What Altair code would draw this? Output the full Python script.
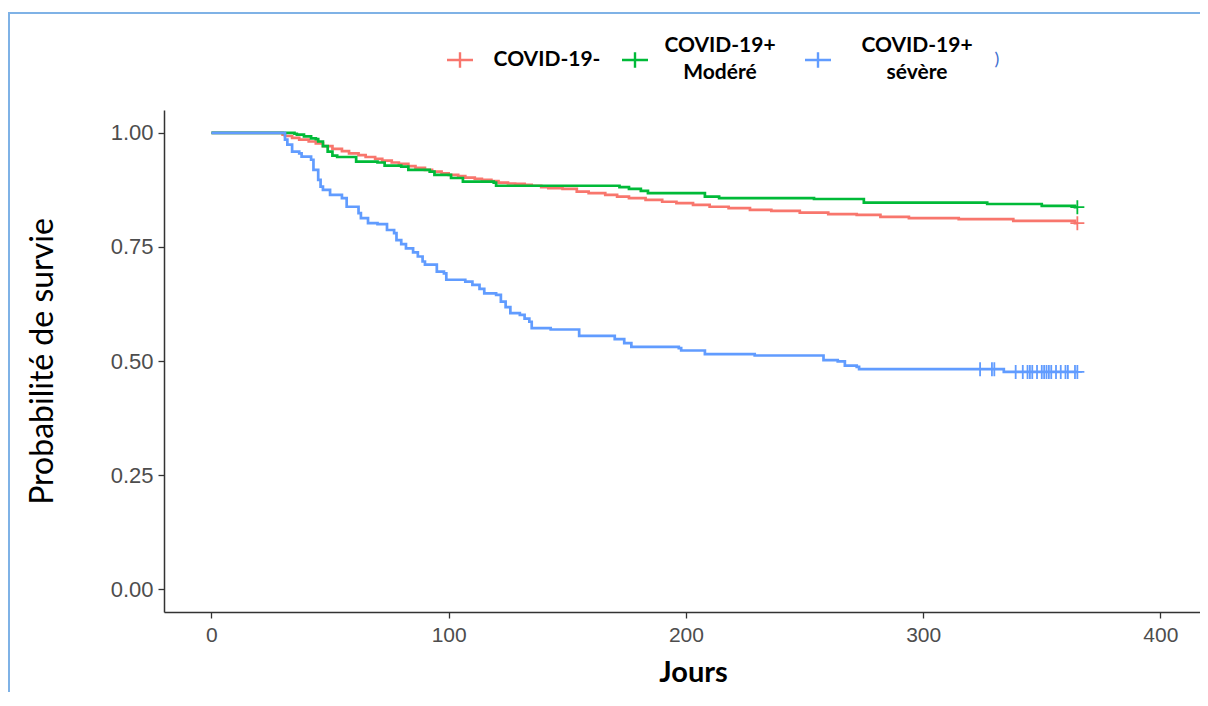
import altair as alt
import pandas as pd

# ---------------- data ----------------
groups = ["COVID-19-", "COVID-19+ Modéré", "COVID-19+ sévère"]
colors = ["#F8766D", "#00BA38", "#619CFF"]

red_t = [0, 30, 31, 34, 37, 41, 44, 47, 51, 55, 58, 62, 65, 69, 72, 76, 79, 83, 86, 90,
         93, 97, 100, 104, 107, 111, 114, 118, 121, 125, 128, 132, 135, 139, 142, 148, 154,
         159, 166, 171, 176, 183, 190, 196, 203, 210, 218, 227, 236, 248, 260, 272, 282,
         294, 315, 338, 364, 365]
red_s = [1.0, 0.996, 0.993, 0.989, 0.985, 0.981, 0.977, 0.971, 0.965, 0.960, 0.955, 0.951,
         0.947, 0.943, 0.939, 0.935, 0.932, 0.927, 0.923, 0.919, 0.915, 0.911, 0.908, 0.905,
         0.902, 0.899, 0.897, 0.894, 0.891, 0.889, 0.888, 0.886, 0.884, 0.881, 0.879, 0.877,
         0.871, 0.868, 0.864, 0.860, 0.857, 0.853, 0.849, 0.846, 0.842, 0.838, 0.835, 0.831,
         0.829, 0.825, 0.822, 0.820, 0.816, 0.813, 0.811, 0.807, 0.802, 0.802]

green_t = [0, 30, 35, 36, 39, 42, 44, 45, 47, 49, 51, 53, 61, 70, 73, 80, 83, 92, 94, 101,
           106, 119, 120, 172, 176, 181, 184, 208, 214, 254, 275, 327, 350, 364, 365]
green_s = [1.0, 1.0, 0.998, 0.996, 0.992, 0.988, 0.986, 0.981, 0.971, 0.959, 0.950, 0.947,
           0.937, 0.935, 0.928, 0.926, 0.919, 0.915, 0.908, 0.901, 0.893, 0.891, 0.884,
           0.881, 0.877, 0.873, 0.868, 0.860, 0.857, 0.855, 0.847, 0.844, 0.840, 0.837, 0.837]

blue_t = [0, 30, 31, 32, 34, 37, 38, 42, 43, 45, 46, 47, 50, 55, 57, 62, 63, 66, 70, 74,
          77, 78, 80, 82, 85, 87, 89, 90, 95, 98, 99, 107, 110, 113, 115, 120, 122, 124,
          126, 130, 132, 134, 135, 143, 155, 170, 174, 177, 197, 198, 208, 229, 258, 264,
          267, 272, 273, 334, 365]
blue_s = [1.0, 1.0, 0.985, 0.974, 0.959, 0.955, 0.948, 0.941, 0.919, 0.897, 0.882, 0.875,
          0.864, 0.857, 0.838, 0.824, 0.813, 0.802, 0.800, 0.787, 0.780, 0.765, 0.756, 0.747,
          0.738, 0.729, 0.718, 0.711, 0.696, 0.692, 0.678, 0.674, 0.667, 0.658, 0.648, 0.645,
          0.630, 0.618, 0.605, 0.601, 0.593, 0.586, 0.572, 0.569, 0.555, 0.548, 0.539, 0.531,
          0.528, 0.523, 0.515, 0.512, 0.502, 0.499, 0.490, 0.487, 0.482, 0.476, 0.476]

red_cens = [365]
green_cens = [365]
blue_cens = [324, 329, 330, 339, 342, 344, 345, 346, 348, 350, 351, 352, 353, 354, 356,
             358, 360, 361, 364, 365]

x_ticks = [0, 100, 200, 300, 400]
y_ticks = [0.0, 0.25, 0.5, 0.75, 1.0]

legend_lines = [["COVID-19-"], ["COVID-19+", "Modéré"], ["COVID-19+", "sévère"]]

# ---------------- build tables ----------------
def step_value(ts, ss, t):
    v = ss[0]
    for tt, s in zip(ts, ss):
        if tt <= t:
            v = s
    return v

series = [(red_t, red_s, red_cens), (green_t, green_s, green_cens), (blue_t, blue_s, blue_cens)]
curves = []
cens = []
for g, (ts, ss, cs) in zip(groups, series):
    curves.append(pd.DataFrame({"t": ts, "s": ss, "group": g}))
    cens.append(pd.DataFrame({"t": cs, "s": [step_value(ts, ss, c) for c in cs], "group": g}))

LABEL_FONT = "Liberation Sans"
TEXT_FONT = "Lato"

X = alt.X("t:Q", scale=alt.Scale(domain=[-20, 416.7], nice=False, zero=False),
          axis=alt.Axis(values=x_ticks, title="Jours", grid=False, labelFont=LABEL_FONT,
                        labelFontSize=21, labelColor="#4D4D4D", labelPadding=6,
                        tickSize=6, tickColor="#333333", tickWidth=1.3,
                        domainColor="#333333", domainWidth=1.5,
                        titleFont=TEXT_FONT, titleFontWeight="bold", titleFontSize=29,
                        titleColor="#000000", titleX=529, titleY=60,
                        titleBaseline="middle", titleAlign="center"))
Y = alt.Y("s:Q", scale=alt.Scale(domain=[-0.05, 1.05], nice=False, zero=False),
          axis=alt.Axis(values=y_ticks, format=".2f", title="Probabilité de survie",
                        grid=False, labelFont=LABEL_FONT, labelFontSize=22,
                        labelColor="#4D4D4D", labelPadding=5,
                        tickSize=6, tickColor="#333333", tickWidth=1.3,
                        domainColor="#333333", domainWidth=1.5,
                        titleFont=TEXT_FONT, titleFontWeight="normal", titleFontSize=32,
                        titleColor="#000000", titleX=-122, titleY=251, titleAngle=270,
                        titleBaseline="middle", titleAlign="center"))
C = alt.Color("group:N", scale=alt.Scale(domain=groups, range=colors), legend=None)

one = pd.DataFrame({"a": [0]})
layers = []

# frame (light blue border of the original slide box)
layers.append(alt.Chart(one).mark_rule(color="#7FB2E6", strokeWidth=2).encode(
    x=alt.value(-156), x2=alt.value(1036), y=alt.value(-97)))
layers.append(alt.Chart(one).mark_rule(color="#7FB2E6", strokeWidth=2).encode(
    x=alt.value(-155), y=alt.value(-97), y2=alt.value(590)))

for df in curves:
    layers.append(alt.Chart(df).mark_line(interpolate="step-after", strokeWidth=2.7).encode(
        x=X, y=Y, color=C))
for df in cens:
    layers.append(alt.Chart(df).mark_point(shape="M-1,0H1M0,-1V1", filled=False, size=196,
                                           strokeWidth=1.8, opacity=1).encode(
        x=X, y=Y, color=C))

# legend (manual, as in the reference overlay)
sym_x = [296, 471, 654]
lab_x = [383, 556, 753]
for i, g in enumerate(groups):
    layers.append(alt.Chart(one).mark_point(shape="M-1,0H1M0,-0.6V0.6", filled=False,
                                            size=676, strokeWidth=2.4, opacity=1,
                                            color=colors[i]).encode(
        x=alt.value(sym_x[i]), y=alt.value(-50)))
    lines = legend_lines[i]
    ys = [-50] if len(lines) == 1 else [-64, -37]
    for ln, yy in zip(lines, ys):
        layers.append(alt.Chart(one).mark_text(font=TEXT_FONT, fontWeight="bold", fontSize=21,
                                               color="#000000", align="center",
                                               baseline="middle").encode(
            x=alt.value(lab_x[i]), y=alt.value(yy), text=alt.value(ln)))
layers.append(alt.Chart(one).mark_text(font=TEXT_FONT, fontSize=18, color="#3F6FD0",
                                       align="center", baseline="middle").encode(
    x=alt.value(833), y=alt.value(-50), text=alt.value(")")))

chart = alt.layer(*layers).properties(
    width=1036, height=502,
    padding={"left": 156, "top": 102, "right": 0, "bottom": 80},
    autosize=alt.AutoSizeParams(type="none"),
    background="white",
).configure_view(stroke=None)

chart.save("out.html", embed_options={"renderer": "svg", "actions": False})
